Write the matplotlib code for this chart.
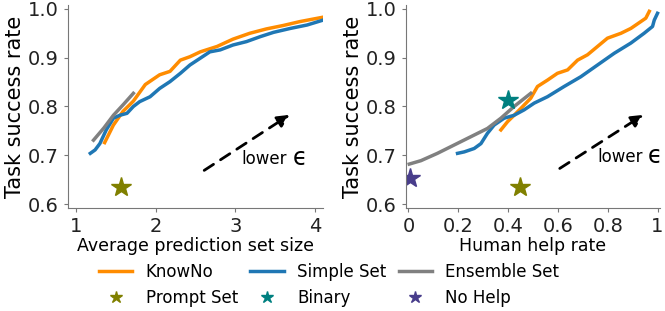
import matplotlib
matplotlib.use('Agg')
import matplotlib.pyplot as plt
import numpy as np

# left panel: average prediction set size vs success
knowno_size = [1.36, 1.47, 1.59, 1.72, 1.87, 2.05, 2.18, 2.31, 2.43, 2.56, 2.77, 2.97, 3.18, 3.39, 3.60, 3.81, 4.10]
knowno_size_sr = [0.726, 0.762, 0.790, 0.811, 0.845, 0.865, 0.872, 0.895, 0.902, 0.912, 0.923, 0.938, 0.950, 0.959, 0.966, 0.974, 0.983]
simple_size = [1.18, 1.24, 1.30, 1.38, 1.47, 1.55, 1.64, 1.72, 1.80, 1.93, 2.05, 2.18, 2.31, 2.43, 2.56, 2.68, 2.81, 2.97, 3.14, 3.31, 3.48, 3.69, 3.90, 4.10]
simple_size_sr = [0.704, 0.711, 0.724, 0.752, 0.776, 0.782, 0.786, 0.800, 0.810, 0.820, 0.837, 0.851, 0.868, 0.885, 0.899, 0.912, 0.916, 0.926, 0.933, 0.943, 0.952, 0.960, 0.967, 0.977]
ensemble_size = [1.22, 1.35, 1.47, 1.60, 1.72]
ensemble_size_sr = [0.731, 0.756, 0.782, 0.805, 0.827]
prompt_size, prompt_size_sr = 1.57, 0.635

# right panel: human help rate vs success
knowno_help = [0.371, 0.398, 0.424, 0.451, 0.491, 0.518, 0.558, 0.598, 0.639, 0.679, 0.719, 0.759, 0.799, 0.853, 0.893, 0.933, 0.953, 0.967]
knowno_help_sr = [0.752, 0.769, 0.782, 0.796, 0.817, 0.841, 0.854, 0.868, 0.875, 0.895, 0.906, 0.923, 0.940, 0.950, 0.960, 0.974, 0.981, 0.995]
simple_help = [0.197, 0.224, 0.264, 0.291, 0.317, 0.344, 0.384, 0.424, 0.464, 0.505, 0.558, 0.625, 0.692, 0.759, 0.826, 0.893, 0.946, 0.980, 0.987, 1.0]
simple_help_sr = [0.704, 0.707, 0.714, 0.724, 0.745, 0.762, 0.776, 0.782, 0.793, 0.807, 0.820, 0.841, 0.861, 0.885, 0.909, 0.930, 0.950, 0.964, 0.977, 0.991]
ensemble_help = [0.003, 0.05, 0.116, 0.183, 0.25, 0.317, 0.371, 0.424, 0.491]
ensemble_help_sr = [0.682, 0.689, 0.704, 0.721, 0.738, 0.755, 0.776, 0.800, 0.827]
binary_help, binary_help_sr = 0.398, 0.813
prompt_help, prompt_help_sr = 0.448, 0.635
nohelp_help, nohelp_help_sr = 0.007, 0.654

c_know = '#ff8c00'
c_simple = '#1f77b4'
c_ens = 'gray'
c_prompt = '#808000'
c_binary = '#008080'
c_nohelp = '#483d8b'

plt.rcParams['font.size'] = 12
fig = plt.figure(figsize=(6.65, 3.11), dpi=100)
ax1 = fig.add_axes([68/665, 1-208/311, 255/665, 203/311])
ax2 = fig.add_axes([406/665, 1-208/311, 254/665, 203/311])

for ax in (ax1, ax2):
    for s in ['top', 'right']:
        ax.spines[s].set_visible(False)
    for s in ['left', 'bottom']:
        ax.spines[s].set_color('#777777')
    ax.tick_params(colors='#777777', labelcolor='#222222', labelsize=14, length=3)
    ax.set_ylim(0.592, 1.008)
    ax.set_yticks([0.6, 0.7, 0.8, 0.9, 1.0])
    ax.set_ylabel('Task success rate', fontsize=15, labelpad=2)

l1, = ax1.plot(knowno_size, knowno_size_sr, color=c_know, lw=2.5, label='KnowNo')
l2, = ax1.plot(simple_size, simple_size_sr, color=c_simple, lw=2.5, label='Simple Set')
l3, = ax1.plot(ensemble_size, ensemble_size_sr, color=c_ens, lw=2.5, label='Ensemble Set')
ax1.plot(prompt_size, prompt_size_sr, '*', color=c_prompt, ms=15)
ax1.set_xlim(0.9, 4.1)
ax1.set_xticks([1, 2, 3, 4])
ax1.set_xlabel('Average prediction set size', fontsize=12.5, labelpad=1)
ax1.annotate('', xy=(3.71, 0.786), xytext=(2.58, 0.666),
             arrowprops=dict(arrowstyle='-|>', ls=(0, (4, 3)), lw=2, color='black', mutation_scale=18))
ax1.text(3.08, 0.683, 'lower', fontsize=12)
ax1.text(3.72, 0.681, 'ϵ', fontsize=17)

ax2.plot(knowno_help, knowno_help_sr, color=c_know, lw=2.5)
ax2.plot(simple_help, simple_help_sr, color=c_simple, lw=2.5)
ax2.plot(ensemble_help, ensemble_help_sr, color=c_ens, lw=2.5)
s1, = ax2.plot(prompt_help, prompt_help_sr, '*', color=c_prompt, ms=15, label='Prompt Set')
s2, = ax2.plot(binary_help, binary_help_sr, '*', color=c_binary, ms=15, label='Binary')
s3, = ax2.plot(nohelp_help, nohelp_help_sr, '*', color=c_nohelp, ms=15, label='No Help')
ax2.set_xlim(-0.01, 1.01)
ax2.set_xticks([0, 0.2, 0.4, 0.6, 0.8, 1.0])
ax2.set_xticklabels(['0', '0.2', '0.4', '0.6', '0.8', '1'])
ax2.set_xlabel('Human help rate', fontsize=12.5, labelpad=1)
ax2.annotate('', xy=(0.953, 0.786), xytext=(0.598, 0.67),
             arrowprops=dict(arrowstyle='-|>', ls=(0, (4, 3)), lw=2, color='black', mutation_scale=18))
ax2.text(0.759, 0.687, 'lower', fontsize=12)
ax2.text(0.962, 0.685, 'ϵ', fontsize=17)

leg_handles = [l1, s1, l2, s2, l3, s3]
fig.legend(handles=leg_handles, labels=[h.get_label() for h in leg_handles],
           loc='lower center', bbox_to_anchor=(0.495, -0.035), ncol=3, frameon=False,
           fontsize=12, handlelength=2.0, columnspacing=0.75, labelspacing=0.5,
           markerscale=0.6)

fig.savefig('out.png', dpi=100)
